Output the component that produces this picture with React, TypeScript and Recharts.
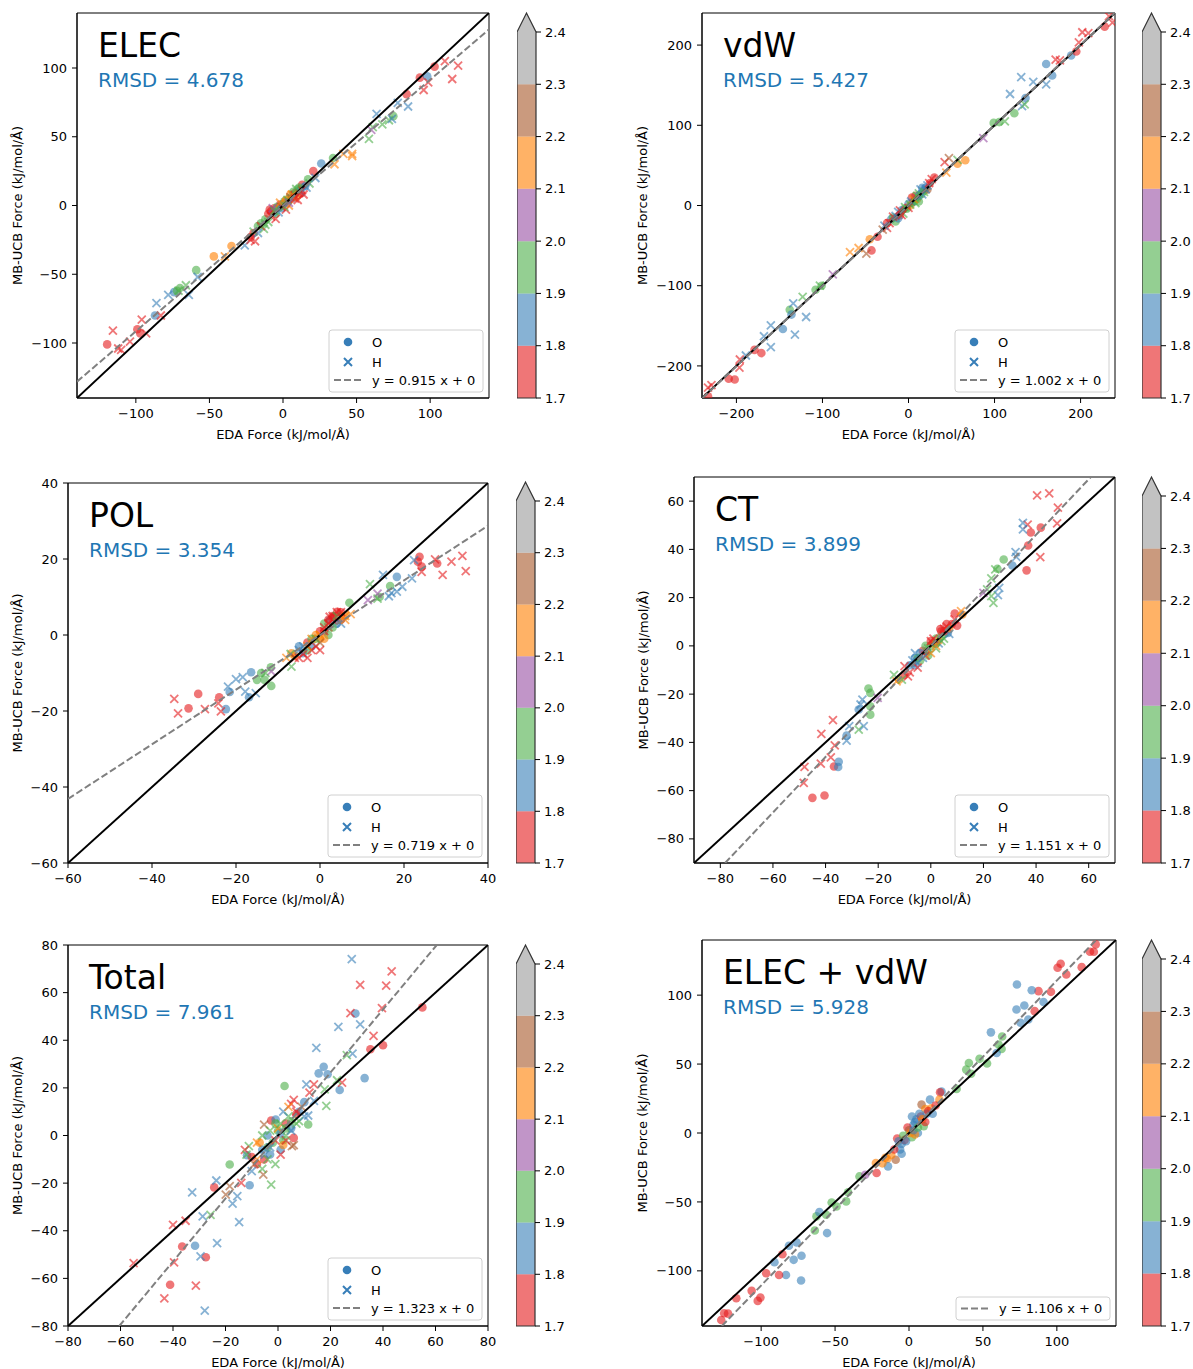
import React from "react";
import { ScatterChart, Scatter, XAxis, YAxis, ReferenceArea, BarChart, Bar } from "recharts";

const FONT = "'DejaVu Sans', sans-serif";
// Set1 without yellow / pink, one colour per 0.1 band of the colorbar (1.7 .. 2.4)
const SET1 = ["#e41a1c", "#377eb8", "#4daf4a", "#984ea3", "#ff7f00", "#a65628", "#999999"];
const cbTicks = [1.7, 1.8, 1.9, 2.0, 2.1, 2.2, 2.3, 2.4];
const cbSpan = [{ k: "cb", span: [1.7, 2.4] }];

type Pt = [number, number, number]; // EDA force, MB-UCB force, colour band

// ---- ELEC ----
const elecTicks = [-100, -50, 0, 50, 100];
const elecO: Pt[] = [
  [-119.5, -101, 0], [-99, -90, 0], [-97, -93, 0], [-87, -80, 1], [-74, -63, 1], [-70, -60, 2], [-72, -62, 2],
  [-59, -47, 2], [-47, -37, 4], [-35, -29.5, 4], [-20, -20, 0], [-9, -3, 0], [-8, -4, 0], [-2, 0.7, 0],
  [3, 2, 1], [5, 8, 4], [8, 9, 0], [10, 12, 2], [17, 19, 2], [20.6, 25, 0], [26, 30.5, 1], [34, 34.6, 2],
  [75, 65, 2], [84, 81, 0], [93, 93, 0], [98, 94, 1], [103, 101, 0], [-15, -13, 2], [-5, -6, 2], [0, 1, 1],
  [12, 9, 0], [-12, -10, 2], [6, 5, 3], [-10, -6, 0], [-6, -2, 0], [-4, -1, 2], [1, 3, 2], [4, 5, 2], [7, 10, 2],
  [9, 6, 4], [13, 15, 0], [15, 14, 1], [-17, -15, 2], [-22, -23, 0], [2, 4, 4], [-1, -2, 1], [11, 13, 2],
];
const elecH: Pt[] = [
  [-115.6, -91, 0], [-112, -104, 0], [-110, -105, 0], [-104, -99, 0], [-96, -83, 0], [-93, -93, 0], [-83, -80, 0],
  [-86, -71, 1], [-78, -65, 1], [-64, -65, 1], [-58, -52, 1], [-71, -62, 2], [-66, -58, 2], [-39.5, -37, 4],
  [-26, -29, 1], [-22, -25, 0], [-19, -26, 0], [-20, -19, 2], [-13, -17, 2], [-10, -12, 2], [-5, -9.7, 0],
  [-3, -5, 1], [2, -3, 0], [4, 0, 4], [7.8, 7.3, 0], [10, 4, 0], [12, 10, 1], [14, 8, 0], [18, 16, 2],
  [22, 20, 1], [35, 30, 4], [41, 37.5, 4], [47, 37.5, 4], [47, 36, 4], [58.4, 48.4, 2], [61, 57, 2],
  [67.5, 59, 2], [72, 62, 2], [63.6, 66.6, 1], [74, 63, 1], [78, 74.6, 1], [85, 72, 1], [95.6, 84, 0],
  [98.7, 89.6, 0], [110, 105, 0], [115, 92, 0], [119, 101.7, 0], [60, 55, 3], [-7, -2, 3], [5, 6, 5],
  [-8, -8, 0], [-6, -4, 2], [-1, -1, 0], [1, -1, 2], [3, 4, 2], [6, 8, 4], [8, 5, 0], [11, 9, 0], [13, 11, 0],
  [16, 13, 1], [-15, -15, 0], [-12, -14, 2], [-17, -20, 1], [-2, 2, 4], [9, 12, 2], [4, 2, 3],
];

// ---- vdW ----
const vdwTicks = [-200, -100, 0, 100, 200];
const vdwO: Pt[] = [
  [160, 176.5, 1], [167, 162, 1], [189, 187, 1], [195, 192, 0], [228, 223, 0], [-146, -154, 1], [-171, -184, 0],
  [-179, -180, 0], [-202, -217, 0], [-209, -216, 0], [-233, -238, 0], [66, 56.5, 4], [57, 52, 4], [-43, -56, 0],
  [-45, -42, 4], [-36, -39, 0], [99, 103, 2], [105.5, 104, 2], [123, 115, 2], [136, 134, 1], [-108, -105, 2],
  [-101, -100, 2], [-138, -130, 2], [-136, -136, 1], [-10, -12, 0], [-5, -4, 2], [0, 2, 1], [5, 4, 2],
  [10, 8, 4], [15, 14, 2], [20, 22, 1], [25, 28, 0], [-20, -17, 1], [-15, -20, 2], [8, 12, 5], [30, 35, 0], [12, 5, 2],
  [-25, -22, 0], [-18, -15, 2], [-8, -6, 1], [-2, -4, 2], [2, 0, 4], [7, 6, 2], [12, 12, 1], [18, 18, 2],
  [22, 20, 5], [-12, -16, 1], [16, 22, 1], [4, 10, 0],
];
const vdwH: Pt[] = [
  [131, 160, 1], [145, 154, 1], [160, 151, 1], [118, 139, 1], [132, 124, 1], [171, 182, 0], [176, 181, 0],
  [198, 203.5, 0], [202, 216, 0], [209, 215, 0], [233, 236, 0], [237, 228, 0], [-233, -227, 0], [-229, -224, 0],
  [-196, -192, 0], [-196.5, -202, 0], [-189, -187, 1], [-160, -149.5, 1], [-168, -163, 1], [-160, -176.5, 1],
  [-132, -161, 1], [-119, -139, 1], [-134, -122, 1], [-123, -114, 2], [-103, -100, 2], [-88, -86, 3], [87, 84, 3],
  [42, 54, 0], [47, 59, 5], [57, 57, 2], [44, 41, 4], [-68, -58, 4], [-58, -53, 4], [-49, -60, 5], [112, 105, 2],
  [-25, -28, 0], [-18, -14, 0], [-12, -8, 1], [-6, -10, 2], [0, -3, 0], [3, 5, 1], [8, 3, 2], [14, 20, 1],
  [18, 17, 2], [22, 25, 1], [27, 33, 0], [-28, -25, 1], [135, 126, 2], [-30, -30, 5],
  [-22, -22, 0], [-15, -13, 1], [-10, -6, 0], [-4, -2, 2], [2, 1, 2], [6, 8, 4], [10, 12, 2], [16, 14, 1],
  [20, 20, 1], [24, 28, 0], [-8, -12, 0], [12, 15, 2],
];

// ---- POL ----
const polTicks = [-60, -40, -20, 0, 20, 40];
const polO: Pt[] = [
  [-29, -15.5, 0], [-31.3, -19.3, 0], [-24, -16.4, 0], [-22.4, -19.5, 1], [-21.5, -15, 1], [-16.4, -9.8, 1],
  [-16.9, -16.4, 1], [-11.6, -13.4, 2], [-11.7, -8.5, 2], [-13.2, -11.8, 2], [-15, -11.8, 2], [-14, -10, 2],
  [23.7, 20.6, 0], [23.3, 19.3, 0], [24.2, 18, 0], [27.9, 18.8, 0], [18.3, 15.3, 1], [16.7, 12.9, 2], [7, 8.5, 2],
  [14.2, 10, 2], [-6.8, -4.8, 4], [-6, -5.5, 4], [4.1, 6.1, 0], [3.2, 4.8, 0], [2.3, 3.9, 1], [-4.1, -4.8, 1],
  [4, 3, 1], [1, 1, 0], [-1, -1, 2], [2, 0, 2], [-2, -3, 1], [5, 4, 0], [0, -1, 4], [-3, -2, 0], [3, 2, 2], [6, 5, 4],
  [-5, -3, 1], [-2, -1, 2], [0, 1, 0], [1, 3, 2], [3, 5, 0], [5, 6, 0], [2, 4, 0], [-1, 0, 4], [1, -1, 4], [-3, -4, 2],
];
const polH: Pt[] = [
  [-34.7, -16.8, 0], [-33.8, -20.6, 0], [-27.4, -19.5, 0], [-23.6, -20.1, 0], [-24.2, -18, 0], [-21.9, -13.6, 1],
  [-20, -11.6, 1], [-18.4, -11.1, 1], [-17.8, -14.9, 1], [-15.3, -15.3, 1], [29.2, 15.8, 0], [31.3, 19.3, 0],
  [33.9, 20.8, 0], [34.7, 16.8, 0], [27.4, 19.9, 0], [24.2, 16.6, 0], [22.4, 19.7, 1], [21.9, 14.9, 1],
  [19.6, 12.7, 1], [16.4, 10.2, 1], [15, 15.8, 1], [18.3, 11.4, 1], [17, 11, 1], [11.9, 13.4, 2], [13.7, 10.9, 3],
  [11.4, 9.2, 3], [13.7, 9.6, 2], [-6.8, -8.3, 2], [-11.6, -9.6, 3], [7.3, 5.5, 4], [6, 5, 4], [2.3, 4.8, 0],
  [-4, -5, 0], [-3, -6, 0], [-5, -4, 1], [-1, -3, 0], [0, -2, 5], [1, 2, 0], [3, 4, 0], [4, 6, 0], [2, 2, 5],
  [-2, -1, 4], [-8, -6, 4], [-13, -10, 2], [5, 3, 1], [-7, -5, 2],
  [-6, -6, 0], [-5, -6, 0], [-2, -4, 0], [-1, -1, 2], [0, 0, 4], [1, 1, 0], [2, 3, 0], [3, 5, 0], [4, 5, 2],
  [5, 6, 0], [-3, -3, 4], [0, -4, 0], [6, 4, 4], [-4, -3, 1],
];

// ---- CT ----
const ctTicks = [-80, -60, -40, -20, 0, 20, 40, 60];
const ctO: Pt[] = [
  [-45, -63, 0], [-40.4, -62, 0], [-36.8, -50, 0], [-35, -48, 1], [-35.2, -50.2, 1], [-32, -37.2, 1],
  [-27.4, -26.4, 1], [-23.7, -17.7, 2], [-23, -19.5, 2], [-23, -28.5, 2], [-23, -25, 2], [36.4, 31.3, 0],
  [37, 41.6, 0], [38, 47, 0], [41.8, 49, 0], [31, 33.3, 1], [27.7, 35.8, 2], [25.3, 32, 2], [9.1, 13.4, 0],
  [10, 8.4, 0], [6.5, 5.4, 1], [3.6, 7, 0], [-1.4, -2.2, 1], [-6, -5, 1], [-4, -6, 2], [0, 0, 2], [2, 3, 2],
  [5, 6, 0], [-8, -8, 1], [-10, -12, 0], [-12, -14, 4], [1, 1, 4], [4, 4, 2], [-3, -2, 0], [8, 9, 0], [12, 13, 4],
  [-6, -8, 1], [-4, -3, 1], [-2, 0, 2], [0, 2, 0], [2, 1, 2], [4, 6, 0], [6, 9, 0], [7, 7, 4], [-1, -4, 2],
  [-5, -5, 2], [3, 2, 4],
];
const ctH: Pt[] = [
  [40.4, 62.4, 0], [45, 63.2, 0], [48.3, 57.3, 0], [48, 50.8, 0], [36.8, 50.3, 0], [41.6, 36.8, 0], [35, 51, 1],
  [35, 48.3, 1], [32.2, 38.9, 1], [32.5, 36.9, 1], [26, 24, 1], [25.5, 21, 1], [23.8, 17.8, 2], [23, 20.6, 2],
  [21.4, 23.4, 2], [24.5, 31.7, 2], [23, 28, 2], [20, 22, 3], [-37.2, -30.8, 0], [-41.6, -36.5, 0],
  [-36.5, -41.2, 0], [-38, -46.2, 0], [-41.8, -48.8, 0], [-48, -50.2, 0], [-48.3, -56.8, 0], [-31, -33.3, 1],
  [-32, -39.3, 1], [-27.4, -34.7, 2], [-25.5, -33.3, 1], [-26, -22.3, 1], [-26.7, -24.3, 1], [-20.2, -21.6, 3],
  [-13, -14.7, 4], [-8.7, -12.6, 0], [-10, -8.4, 0], [11.5, 14.4, 4], [-5, -7, 1], [-2, -4, 0], [0, 2, 0],
  [3, 1, 1], [6, 8, 0], [-6, -3, 1], [2, -1, 2], [-14, -12, 2], [5, 3, 2],
  [-7, -6, 1], [-5, -9, 0], [-3, -5, 1], [-1, -1, 2], [1, 3, 0], [4, 2, 2], [5, 7, 0], [7, 5, 1], [9, 11, 0],
  [-8, -11, 0], [-11, -14, 2], [0, -3, 4], [2, 0, 4],
];

// ---- Total ----
const totTicks = [-80, -60, -40, -20, 0, 20, 40, 60, 80];
const totO: Pt[] = [
  [55, 53.8, 0], [40, 37.9, 0], [35.2, 36.2, 0], [29.5, 51.2, 1], [33, 24.1, 1], [23.5, 19.1, 1], [17.4, 28.9, 1],
  [15.5, 26.1, 1], [18.9, 25.7, 1], [2.5, 20.8, 2], [11.5, 4.6, 2], [-18.4, -12.2, 2], [-11.8, -8.3, 1],
  [-10.8, -20.9, 1], [-24.3, -21.8, 0], [-36.5, -46.6, 0], [-31.6, -46.3, 1], [-27.5, -51.1, 0], [-41.1, -62.7, 0],
  [-2.6, 6.3, 0], [-0.9, 6.7, 1], [-5.3, -10.1, 0], [-3, -8, 1], [2, -2, 2], [5, 3, 1], [8, 10, 1], [-7, -3, 4],
  [0, 2, 2], [3, 5, 0], [-4, -5, 2], [6, -1, 0], [-8, -12, 0], [10, 14, 1], [1, -6, 1],
  [-4, 0, 1], [-2, -3, 2], [1, 1, 1], [3, 3, 2], [5, 6, 2], [-6, -6, 1], [-10, -9, 0], [7, 9, 0], [2, -4, 4], [-1, 5, 2],
];
const totH: Pt[] = [
  [28.1, 74.1, 1], [43.3, 68.9, 0], [31.3, 63.3, 0], [41.2, 62.9, 0], [39.6, 53.5, 0], [27.6, 51.4, 0],
  [36.4, 41.8, 0], [31.3, 46.7, 1], [23, 45.6, 1], [14.6, 36.8, 1], [28.4, 34.4, 1], [26.2, 33.8, 2],
  [24.4, 22.2, 0], [22.5, 23.2, 2], [18.4, 12.4, 2], [17.8, 19.4, 2], [10.8, 21.5, 1], [13.7, 21.5, 0],
  [11.5, 8.4, 1], [13.7, 14.5, 1], [5, 13.3, 0], [-5.3, 4.6, 5], [5.3, -4.5, 5], [-2.6, -20.6, 2], [-5.6, -16.4, 5],
  [-11.1, -4.5, 2], [-12.6, -6, 0], [-14, -19.9, 0], [-15.5, -25.5, 1], [-17.3, -28.6, 1], [-14.8, -36.4, 1],
  [-18.4, -21.3, 5], [-23.5, -18.9, 1], [-23.2, -45.2, 1], [-32.7, -23.9, 1], [-28.7, -34, 1], [-25.7, -33.3, 2],
  [-29.5, -50.8, 1], [-27.9, -73.5, 1], [-31.3, -63, 0], [-43.3, -68.4, 0], [-40, -37.5, 0], [-35.2, -35.8, 0],
  [-39.6, -53.3, 0], [-55, -53.6, 0], [-19.9, -24.8, 5], [-8, -10, 4], [-3, -5, 1], [0, 3, 4], [3, -2, 0],
  [4, 8, 2], [7, 5, 2], [-6, 0, 2], [2, 10, 1], [9, 12, 5], [-10, -15, 1], [6, 15, 0], [-1, -12, 2], [12, 18, 0],
  [-8, -3, 4], [-5, -8, 1], [-3, 2, 2], [-1, -2, 0], [1, 5, 2], [3, 0, 2], [5, 2, 1], [7, 10, 0], [8, 6, 2],
  [-9, -12, 5], [-4, -10, 2], [1, -8, 0], [10, 8, 1], [4, 12, 4], [-12, -8, 2], [6, -4, 5], [-6, -14, 2],
];

// ---- ELEC + vdW (oxygen only) ----
const evTicks = [-100, -50, 0, 50, 100];
const evO: Pt[] = [
  [126.3, 136.8, 0], [122.4, 131.5, 0], [125, 131.5, 0], [116.8, 120.3, 0], [102.6, 122.8, 0], [100.5, 119.9, 0],
  [106.4, 115, 0], [96, 102.4, 0], [87.6, 102.9, 0], [85, 88.4, 0], [73, 107.7, 1], [83, 103.6, 1], [78, 92.5, 1],
  [72.7, 89.6, 1], [91, 95, 1], [75.5, 80, 1], [80.7, 82.3, 1], [55.4, 73, 1], [60.6, 64.2, 2], [63, 70, 2],
  [62.6, 61, 2], [59.3, 58, 1], [40.5, 50.8, 2], [38.7, 46, 2], [47.7, 53.8, 2], [52.8, 50.4, 2], [42, 43, 2],
  [32.2, 32, 2], [22, 30, 1], [21, 29.5, 0], [20.6, 24.2, 4], [8.5, 20.6, 5], [14.2, 24.2, 1], [11, 17.4, 4],
  [-33.5, -31.5, 2], [-29.6, -30.3, 3], [-52.3, -50.4, 2], [-49, -53.3, 2], [-41.2, -43, 2], [-42.5, -49.6, 2],
  [-56, -59.3, 2], [-62.6, -60.5, 2], [-63.7, -70.7, 2], [-60.6, -57.4, 1], [-55.4, -72.6, 1], [-76, -79.4, 1],
  [-81.2, -81.8, 1], [-78, -92, 1], [-72.7, -89, 1], [-73, -107, 1], [-83.2, -103, 1], [-91, -93.7, 1],
  [-85.6, -87.9, 0], [-87.9, -103, 0], [-96.6, -101.7, 0], [-106.4, -114.5, 0], [-100.5, -119.4, 0],
  [-102.3, -121.8, 0], [-116.8, -119.9, 0], [-125, -130.8, 0], [-122.4, -131, 0], [-127, -135.6, 0],
  [-9, -19.4, 5], [-14.7, -18.9, 4], [-14.2, -24.2, 1], [-21.9, -29, 0], [-22.4, -21.8, 4], [-5, -8, 1], [0, 2, 2],
  [3, 6, 1], [5, 10, 1], [8, 12, 0], [-3, -5, 0], [-8, -4, 0], [2, -3, 2], [10, 5, 2], [15, 18, 4], [-12, -16, 4],
  [6, 0, 1], [-6, -12, 1], [12, 14, 1], [-1, 4, 0], [4, -1, 4],
  [-10, -12, 0], [-7, -6, 1], [-4, -2, 2], [-2, -6, 1], [1, 0, 4], [3, 2, 1], [4, 8, 1], [6, 4, 2], [7, 14, 1],
  [9, 10, 4], [11, 8, 0], [13, 16, 0], [-16, -18, 4], [-18, -22, 4], [16, 14, 1], [18, 20, 0], [-5, -15, 1], [2, 12, 1],
];

const toPts = (arr: Pt[]) => arr.map(([x, y, c]) => ({ x, y, c }));
const fmt = (v: number) => (v < 0 ? `\u2212${-v}` : `${v}`);

const Dot = (p: any) => (
  <circle cx={p.cx} cy={p.cy} r={4.3} fill={SET1[p.payload.c]} fillOpacity={0.6} />
);
const Cross = (p: any) => {
  const s = 4;
  return (
    <path
      d={`M${p.cx - s},${p.cy - s}L${p.cx + s},${p.cy + s}M${p.cx - s},${p.cy + s}L${p.cx + s},${p.cy - s}`}
      stroke={SET1[p.payload.c]}
      strokeOpacity={0.6}
      strokeWidth={1.8}
      fill="none"
    />
  );
};
const Empty = () => <g />;

const ML = 75, MT = 20, MR = 15, MB = 55;

function LegendBox({ right, bottom, slope, markers }: any) {
  const w = 154, h = markers ? 62 : 23;
  const bx = right - w, by = bottom - h;
  const fitY = by + (markers ? 50 : 11.5);
  const s = 4;
  return (
    <g>
      <rect x={bx} y={by} width={w} height={h} rx={3} fill="#fff" fillOpacity={0.8} stroke="#d0d0d0" />
      {markers && (
        <g>
          <circle cx={bx + 19} cy={by + 12} r={4.3} fill="#377eb8" />
          <text x={bx + 43} y={by + 16.7} fontSize={13}>O</text>
          <path
            d={`M${bx + 19 - s},${by + 32 - s}L${bx + 19 + s},${by + 32 + s}M${bx + 19 - s},${by + 32 + s}L${bx + 19 + s},${by + 32 - s}`}
            stroke="#377eb8"
            strokeWidth={2}
          />
          <text x={bx + 43} y={by + 36.7} fontSize={13}>H</text>
        </g>
      )}
      <line x1={bx + 5} x2={bx + 32} y1={fitY} y2={fitY} stroke="#808080" strokeWidth={2} strokeDasharray="7 3" />
      <text x={bx + 43} y={fitY + 4.7} fontSize={13}>{`y = ${slope.toFixed(3)} x + 0`}</text>
    </g>
  );
}

function Panel({ L, T, W, H, domain, ticks, O, Hx, k, title, rmsd, yGap }: any) {
  const cw = ML + W + MR, ch = MT + H + MB;
  const [lo, hi] = domain;
  const diag = [{ x: lo, y: lo }, { x: hi, y: hi }];
  const x0 = Math.max(lo, lo / k), x1 = Math.min(hi, hi / k);
  const fit = [{ x: x0, y: k * x0 }, { x: x1, y: k * x1 }];
  const axisProps = {
    type: "number" as const,
    domain,
    ticks,
    allowDataOverflow: true,
    interval: 0 as const,
    tickFormatter: fmt,
    tick: { fontSize: 13, fill: "#000" },
    tickSize: 5,
    axisLine: { stroke: "#000" },
    tickLine: { stroke: "#000" },
  };
  return (
    <div style={{ position: "absolute", left: L - ML, top: T - MT, width: cw, height: ch }}>
      <ScatterChart width={cw} height={ch} margin={{ top: MT, right: MR, bottom: 0, left: 0 }}>
        <XAxis {...axisProps} dataKey="x" height={MB} tickMargin={6} />
        <YAxis {...axisProps} dataKey="y" width={ML} tickMargin={5} />
        <Scatter data={toPts(O)} shape={Dot} isAnimationActive={false} />
        {Hx && <Scatter data={toPts(Hx)} shape={Cross} isAnimationActive={false} />}
        <Scatter data={diag} line={{ stroke: "#000", strokeWidth: 2 }} shape={Empty} isAnimationActive={false} />
        <Scatter
          data={fit}
          line={{ stroke: "#808080", strokeWidth: 2, strokeDasharray: "7 3" }}
          shape={Empty}
          isAnimationActive={false}
        />
        <ReferenceArea x1={lo} x2={hi} y1={lo} y2={hi} fill="none" stroke="#000" strokeWidth={1} ifOverflow="visible" />
      </ScatterChart>
      <svg width={cw} height={ch} style={{ position: "absolute", left: 0, top: 0, pointerEvents: "none" }}>
        <text x={ML + 21} y={MT + 44} fontSize={33} fill="#000">{title}</text>
        <text x={ML + 21} y={MT + 74} fontSize={20} fill="#1f77b4">{`RMSD = ${rmsd}`}</text>
        <text x={ML + W / 2} y={MT + H + 41} fontSize={13} textAnchor="middle" fill="#000">
          EDA Force (kJ/mol/Å)
        </text>
        <text
          transform={`translate(${ML - yGap + 4.5},${MT + H / 2}) rotate(-90)`}
          fontSize={13}
          textAnchor="middle"
          fill="#000"
        >
          MB-UCB Force (kJ/mol/Å)
        </text>
        <LegendBox right={ML + W - 6} bottom={MT + H - 6} slope={k} markers={!!Hx} />
      </svg>
    </div>
  );
}

const AH = 19;
const CbOutline = (p: any) => {
  const { x, y, width: w, height: h } = p;
  return (
    <g>
      <path d={`M${x},${y}L${x + w / 2},${y - AH}L${x + w},${y}Z`} fill={SET1[6]} fillOpacity={0.6} />
      <path
        d={`M${x},${y + h}L${x},${y}L${x + w / 2},${y - AH}L${x + w},${y}L${x + w},${y + h}Z`}
        fill="none"
        stroke="#333"
        strokeWidth={1.2}
      />
    </g>
  );
};

function ColorBar({ L, T, B }: any) {
  const top = AH + 4, bot = 8, w = 19, ax = 40;
  return (
    <div style={{ position: "absolute", left: L, top: T - top }}>
      <BarChart
        width={w + ax}
        height={top + (B - T) + bot}
        data={cbSpan}
        margin={{ top, right: 0, bottom: bot, left: 0 }}
        barCategoryGap={0}
      >
        <XAxis dataKey="k" hide />
        <YAxis
          orientation="right"
          type="number"
          domain={[1.7, 2.4]}
          ticks={cbTicks}
          interval={0}
          width={ax}
          axisLine={false}
          tickSize={5}
          tickMargin={4}
          tickFormatter={(v: number) => v.toFixed(1)}
          tick={{ fontSize: 13, fill: "#000" }}
          tickLine={{ stroke: "#000" }}
        />
        {cbTicks.slice(0, -1).map((v, i) => (
          <ReferenceArea key={i} y1={v} y2={cbTicks[i + 1]} fill={SET1[i]} fillOpacity={0.6} stroke="none" ifOverflow="visible" />
        ))}
        <Bar dataKey="span" shape={CbOutline} isAnimationActive={false} />
      </BarChart>
    </div>
  );
}

export default function App() {
  return (
    <div style={{ position: "absolute", left: 0, top: 0, width: 1193, height: 1369, background: "#fff", fontFamily: FONT }}>
      <Panel L={77} T={13} W={412} H={385} domain={[-140, 140]} ticks={elecTicks} O={elecO} Hx={elecH} k={0.915} title="ELEC" rmsd="4.678" yGap={60} />
      <ColorBar L={517} T={32} B={398} />
      <Panel L={702} T={13} W={413} H={385} domain={[-240, 240]} ticks={vdwTicks} O={vdwO} Hx={vdwH} k={1.002} title="vdW" rmsd="5.427" yGap={60} />
      <ColorBar L={1142} T={32} B={398} />
      <Panel L={68} T={483} W={420} H={380} domain={[-60, 40]} ticks={polTicks} O={polO} Hx={polH} k={0.719} title="POL" rmsd="3.354" yGap={51} />
      <ColorBar L={516} T={501} B={863} />
      <Panel L={694} T={477} W={421} H={386} domain={[-90, 70]} ticks={ctTicks} O={ctO} Hx={ctH} k={1.151} title="CT" rmsd="3.899" yGap={51} />
      <ColorBar L={1142} T={496} B={863} />
      <Panel L={68} T={945} W={420} H={381} domain={[-80, 80]} ticks={totTicks} O={totO} Hx={totH} k={1.323} title="Total" rmsd="7.961" yGap={51} />
      <ColorBar L={516} T={964} B={1326} />
      <Panel L={702} T={940} W={414} H={386} domain={[-140, 140]} ticks={evTicks} O={evO} k={1.106} title="ELEC + vdW" rmsd="5.928" yGap={60} />
      <ColorBar L={1142} T={959} B={1326} />
    </div>
  );
}
